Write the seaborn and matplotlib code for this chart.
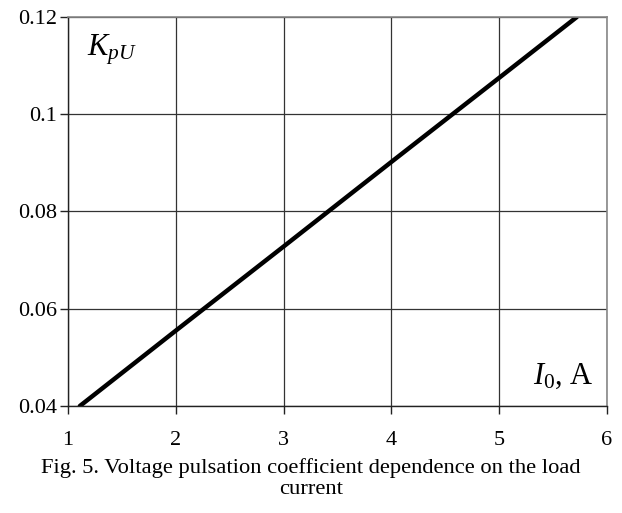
import matplotlib
matplotlib.use("Agg")
import matplotlib.pyplot as plt
import seaborn as sns
import pandas as pd

# values
current = [1.11, 2, 3, 4, 5, 5.72]
kpu = [0.04, 0.0555, 0.0728, 0.0902, 0.1075, 0.12]
x_ticks = [1, 2, 3, 4, 5, 6]
y_ticks = [0.04, 0.06, 0.08, 0.1, 0.12]
y_labels = ["0.04", "0.06", "0.08", "0.1", "0.12"]

sns.set_theme(style="white")
plt.rcParams['font.family'] = ['Liberation Serif', 'DejaVu Serif']
plt.rcParams['text.color'] = 'black'
plt.rcParams['mathtext.fontset'] = 'custom'
plt.rcParams['mathtext.rm'] = 'Liberation Serif'
plt.rcParams['mathtext.it'] = 'Liberation Serif:italic'

df = pd.DataFrame({"I0": current, "KpU": kpu})

fig = plt.figure(figsize=(6.22, 5.13), dpi=100)
ax = fig.add_axes([68 / 622, 107 / 513, 539 / 622, 389 / 513])

sns.lineplot(data=df, x="I0", y="KpU", ax=ax, color="black", linewidth=3.2)

ax.set_xlim(1, 6)
ax.set_ylim(0.04, 0.12)
ax.set_xticks(x_ticks)
ax.set_yticks(y_ticks)
ax.set_yticklabels(y_labels)
ax.set_xticklabels([str(t) for t in x_ticks])
ax.grid(True, color="#333333", linewidth=0.9)
ax.set_axisbelow(True)
ax.set_xlabel("")
ax.set_ylabel("")

for side in ["left", "bottom"]:
    ax.spines[side].set_color("#222222")
    ax.spines[side].set_linewidth(1.0)
for side in ["top", "right"]:
    ax.spines[side].set_color("#888888")
    ax.spines[side].set_linewidth(1.2)

ax.tick_params(axis="both", which="major", direction="out", length=6, width=1,
               color="#222222", labelsize=16, labelcolor="black", bottom=True, left=True)
ax.tick_params(axis="x", pad=12)
ax.tick_params(axis="y", pad=2)

ax.text(0.035, 0.915, r"$K_{pU}$", transform=ax.transAxes, fontsize=22,
        ha="left", va="center")
ax.text(0.975, 0.075, r"$I_0$, A", transform=ax.transAxes, fontsize=22,
        ha="right", va="center")

fig.text(0.5, 1 - 468 / 513, "Fig. 5. Voltage pulsation coefficient dependence on the load",
         ha="center", va="center", fontsize=16.2)
fig.text(0.5, 1 - 490 / 513, "current", ha="center", va="center", fontsize=16.2)

fig.savefig("out.png", dpi=100)
